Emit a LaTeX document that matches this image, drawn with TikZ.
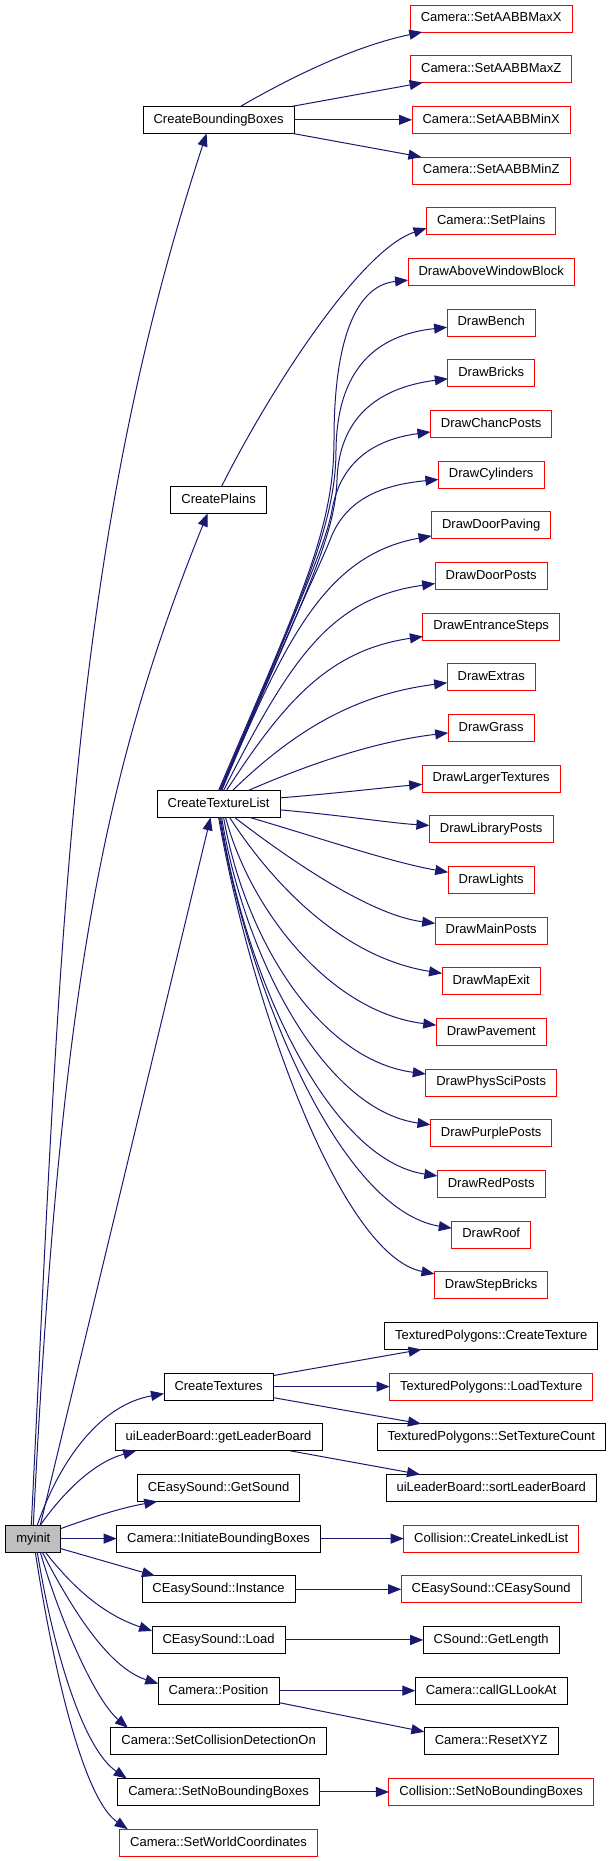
\documentclass[tikz,border=0pt]{standalone}
\usepackage{fontspec}
\setmainfont{Liberation Sans}
\usepackage{tikz}
\usetikzlibrary{positioning,arrows.meta}
\usepackage{xcolor}
\definecolor{callblue}{HTML}{191970}
\definecolor{rootgray}{HTML}{BFBFBF}

\begin{document}
\begin{tikzpicture}[%
    x=1pt,
    y=-1pt,
    >={Triangle[length=13pt,width=10pt]},
    node distance=23.67pt,
    fn/.style={%
      rectangle,
      draw=black,
      line width=0.9pt,
      outer sep=0pt,
      minimum height=27pt,
      inner xsep=10.5pt,
      text height=9.5pt,
      text depth=2.7pt,
      font=\fontsize{13pt}{15pt}\selectfont
    },
    nodoc/.style={fn, draw=red},
    root/.style={fn, fill=rootgray},
    call/.style={->, callblue, line width=1pt}
  ]
    \useasboundingbox (0,0) rectangle (611,1861);
    \coordinate (mid) at (218.6,0);
    \coordinate (lft) at (33.3,0);

    \node[nodoc] (maxx) at (491.2,18.5)        {Camera::SetAABBMaxX};
    \node[nodoc] (maxz)       [below=of maxx]     {Camera::SetAABBMaxZ};
    \node[nodoc] (minx)       [below=of maxz]     {Camera::SetAABBMinX};
    \node[nodoc] (minz)       [below=of minx]     {Camera::SetAABBMinZ};
    \node[nodoc] (setplains)  [below=of minz]     {Camera::SetPlains};
    \node[nodoc] (dawb)       [below=of setplains] {DrawAboveWindowBlock};
    \node[nodoc] (bench)      [below=of dawb]     {DrawBench};
    \node[nodoc] (bricks)     [below=of bench]    {DrawBricks};
    \node[nodoc] (chanc)      [below=of bricks]   {DrawChancPosts};
    \node[nodoc] (cyl)        [below=of chanc]    {DrawCylinders};
    \node[nodoc] (dpaving)    [below=of cyl]      {DrawDoorPaving};
    \node[nodoc] (dposts)     [below=of dpaving]  {DrawDoorPosts};
    \node[nodoc] (esteps)     [below=of dposts]   {DrawEntranceSteps};
    \node[nodoc] (extras)     [below=of esteps]   {DrawExtras};
    \node[nodoc] (grass)      [below=of extras]   {DrawGrass};
    \node[nodoc] (larger)     [below=of grass]    {DrawLargerTextures};
    \node[nodoc] (libposts)   [below=of larger]   {DrawLibraryPosts};
    \node[nodoc] (lights)     [below=of libposts] {DrawLights};
    \node[nodoc] (mposts)     [below=of lights]   {DrawMainPosts};
    \node[nodoc] (mapexit)    [below=of mposts]   {DrawMapExit};
    \node[nodoc] (pavement)   [below=of mapexit]  {DrawPavement};
    \node[nodoc] (physsci)    [below=of pavement] {DrawPhysSciPosts};
    \node[nodoc] (purple)     [below=of physsci]  {DrawPurplePosts};
    \node[nodoc] (redposts)   [below=of purple]   {DrawRedPosts};
    \node[nodoc] (roof)       [below=of redposts] {DrawRoof};
    \node[nodoc] (stepbricks) [below=of roof]     {DrawStepBricks};
    \node[fn]    (tpcreate)   [below=of stepbricks] {TexturedPolygons::CreateTexture};
    \node[nodoc] (tpload)     [below=of tpcreate] {TexturedPolygons::LoadTexture};
    \node[fn]    (tpcount)    [below=of tpload]   {TexturedPolygons::SetTextureCount};
    \node[fn]    (sortlb)     [below=of tpcount]  {uiLeaderBoard::sortLeaderBoard};
    \node[nodoc] (linked)     [below=of sortlb]   {Collision::CreateLinkedList};
    \node[nodoc] (ceasy)      [below=of linked]   {CEasySound::CEasySound};
    \node[fn]    (length)     [below=of ceasy]    {CSound::GetLength};
    \node[fn]    (lookat)     [below=of length]   {Camera::callGLLookAt};
    \node[fn]    (resetxyz)   [below=of lookat]   {Camera::ResetXYZ};
    \node[nodoc] (colnobb)    [below=of resetxyz] {Collision::SetNoBoundingBoxes};

    \node[fn] (cbb)      at (mid |- minx)              {CreateBoundingBoxes};
    \node[fn, yshift=-25.33pt] (plains) at (mid |- cyl) {CreatePlains};
    \node[fn, yshift=-25.33pt] (ctl) at (mid |- larger) {CreateTextureList};
    \node[fn] (ctex)     at (mid |- tpload)            {CreateTextures};
    \node[fn] (getlb)    at (mid |- tpcount)           {uiLeaderBoard::getLeaderBoard};
    \node[fn] (getsound) at (mid |- sortlb)            {CEasySound::GetSound};
    \node[fn] (initbb)   at (mid |- linked)            {Camera::InitiateBoundingBoxes};
    \node[fn] (instance) at (mid |- ceasy)             {CEasySound::Instance};
    \node[fn] (load)     at (mid |- length)            {CEasySound::Load};
    \node[fn] (position) at (mid |- lookat)            {Camera::Position};
    \node[fn] (setcoll)  at (mid |- resetxyz)          {Camera::SetCollisionDetectionOn};
    \node[fn] (setnobb)  at (mid |- colnobb)           {Camera::SetNoBoundingBoxes};
    \node[nodoc] (setworld) [below=of setnobb]         {Camera::SetWorldCoordinates};
    \node[root] (myinit) at (lft |- initbb)            {myinit};

    % myinit
    \draw[call] ([xshift=-2pt]myinit.north) .. controls (61,925) and (70,550) .. ([xshift=-12pt]cbb.south);
    \draw[call] (myinit.north) .. controls (60,1000) and (100,780) .. ([xshift=-11pt]plains.south);
    \draw[call] ([xshift=7pt]myinit.north) -- ([xshift=-8pt]ctl.south);
    \draw[call] ([xshift=4pt]myinit.north) .. controls (60,1460) and (100,1405) .. ([yshift=-7pt]ctex.west);
    \draw[call] ([xshift=7pt]myinit.north) .. controls (65,1490) and (95,1462) .. ([xshift=21pt]getlb.south west);
    \draw[call] ([yshift=10pt]myinit.east) .. controls (90,1518) and (120,1508) .. ([xshift=20pt]getsound.south west);
    \draw[call] (myinit) -- (initbb);
    \draw[call] ([yshift=-10pt]myinit.east) -- ([xshift=13pt]instance.north west);
    \draw[call] ([xshift=12pt]myinit.south) .. controls (75,1590) and (105,1615) .. ([yshift=9pt]load.west);
    \draw[call] ([xshift=9pt]myinit.south) .. controls (75,1615) and (110,1668) .. ([yshift=7pt]position.west);
    \draw[call] ([xshift=7pt]myinit.south) .. controls (60,1620) and (95,1700) .. ([xshift=17pt]setcoll.north west);
    \draw[call] ([xshift=4pt]myinit.south) .. controls (55,1660) and (85,1750) .. ([xshift=9pt]setnobb.north west);
    \draw[call] ([xshift=2pt]myinit.south) .. controls (55,1680) and (85,1800) .. ([xshift=8pt]setworld.north west);

    % CreateBoundingBoxes, CreatePlains
    \draw[call] ([xshift=22pt]cbb.north) .. controls (300,72) and (360,45) .. ([xshift=12pt]maxx.south west);
    \draw[call] ([xshift=-2pt]cbb.north east) -- ([xshift=12pt]maxz.south west);
    \draw[call] (cbb) -- (minx);
    \draw[call] ([xshift=-2pt]cbb.south east) -- ([xshift=9pt]minz.north west);
    \draw[call] ([xshift=3pt]plains.north) .. controls (270,390) and (360,250) .. ([yshift=-7pt]setplains.west);

    % CreateTextureList
    \draw[call] (ctl.north) .. controls (300,600) and (334,530) .. (334,440)
                .. controls (334,330) and (360,285) .. (dawb);
    \draw[call] ([xshift=1pt]ctl.north) .. controls (301,600) and (336,525) .. (336,450)
                .. controls (337,370) and (375,335) .. (bench);
    \draw[call] ([xshift=2pt]ctl.north) .. controls (300,605) and (335,540) .. (337,480)
                .. controls (339,420) and (375,388) .. (bricks);
    \draw[call] ([xshift=2pt]ctl.north) .. controls (296,610) and (326,545) .. (332,510)
                .. controls (340,465) and (370,440) .. (chanc);
    \draw[call] ([xshift=3pt]ctl.north) .. controls (290,625) and (318,570) .. (330,540)
                .. controls (345,500) and (380,485) .. (cyl);
    \draw[call] ([xshift=3pt]ctl.north) .. controls (285,640) and (325,555) .. (dpaving);
    \draw[call] ([xshift=5pt]ctl.north) .. controls (290,660) and (330,598) .. (dposts);
    \draw[call] ([xshift=8pt]ctl.north) .. controls (285,700) and (330,650) .. (esteps);
    \draw[call] ([xshift=14pt]ctl.north) .. controls (290,735) and (350,695) .. (extras);
    \draw[call] ([xshift=30pt]ctl.north) .. controls (300,768) and (370,742) .. (grass);
    \draw[call] ([yshift=6pt]ctl.east) .. controls (340,793) and (390,787) .. (larger);
    \draw[call] ([yshift=-6pt]ctl.east) .. controls (340,815) and (390,823) .. (libposts);
    \draw[call] ([xshift=31pt]ctl.south) .. controls (320,838) and (390,862) .. (lights);
    \draw[call] ([xshift=16pt]ctl.south) .. controls (290,860) and (370,915) .. (mposts);
    \draw[call] ([xshift=11pt]ctl.south) .. controls (270,880) and (340,957) .. (mapexit);
    \draw[call] ([xshift=7pt]ctl.south) .. controls (250,910) and (330,1012) .. (pavement);
    \draw[call] ([xshift=5pt]ctl.south) .. controls (245,940) and (320,1060) .. (physsci);
    \draw[call] ([xshift=3pt]ctl.south) .. controls (245,960) and (325,1110) .. (purple);
    \draw[call] ([xshift=2pt]ctl.south) .. controls (245,980) and (330,1160) .. (redposts);
    \draw[call] ([xshift=1pt]ctl.south) .. controls (248,990) and (340,1210) .. (roof);
    \draw[call] (ctl.south) .. controls (250,1000) and (340,1255) .. (stepbricks);

    % lower calls
    \draw[call] ([yshift=11pt]ctex.east) -- ([xshift=37pt]tpcreate.south west);
    \draw[call] (ctex) -- (tpload);
    \draw[call] ([yshift=-11pt]ctex.east) -- ([xshift=44pt]tpcount.north west);
    \draw[call] ([xshift=-32pt]getlb.south east) -- ([xshift=34pt]sortlb.north west);
    \draw[call] (initbb) -- (linked);
    \draw[call] (instance) -- (ceasy);
    \draw[call] (load) -- (length);
    \draw[call] (position) -- (lookat);
    \draw[call] ([yshift=-12pt]position.east) -- ([yshift=-4pt]resetxyz.north west);
    \draw[call] (setnobb) -- (colnobb);
  \end{tikzpicture}
\end{document}
